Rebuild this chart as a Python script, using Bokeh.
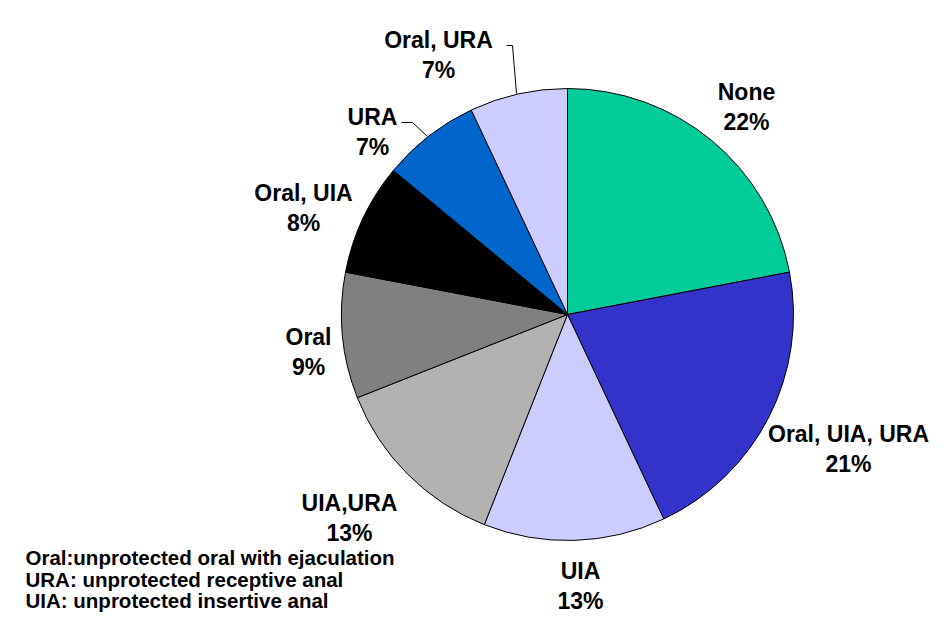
import math
from bokeh.plotting import figure
from bokeh.models import Range1d, ColumnDataSource
from bokeh.core.properties import value
from bokeh.embed import file_html
from bokeh.resources import INLINE

# ---- data ----
categories = ["None", "Oral, UIA, URA", "UIA", "UIA,URA", "Oral", "Oral, UIA", "URA", "Oral, URA"]
percents = [22, 21, 13, 13, 9, 8, 7, 7]
colors = ["#00CC99", "#3333CC", "#CCCCFF", "#B2B2B2", "#808080", "#000000", "#0066CC", "#CCCCFF"]
notes = [
    "Oral:unprotected oral with ejaculation",
    "URA: unprotected receptive anal",
    "UIA: unprotected insertive anal",
]

# ---- layout (pixel coordinates from the plot's top-left) ----
W, H = 932, 615
CX, CY, R = 567, 314, 226
# label centre (x, cap-centre y of first line) per slice
label_pos = [(746, 83), (848, 425), (580, 562), (349, 494), (308, 328), (303, 184), (372, 108), (438, 31)]
line_gap = 30.5
cap_half = 8.3
FS = "23px"
NOTE_FS = "20.5px"
note_x, note_base0, note_gap = 25, 557, 21.5
leaders = [
    [(506, 45), (512, 45), (516, 93)],
    [(401, 122), (412, 122), (427, 136)],
]

def Y(s):
    return H - s

p = figure(width=W, height=H, output_backend="svg", toolbar_location=None,
           x_range=Range1d(0, W), y_range=Range1d(0, H),
           min_border=0, min_border_left=0, min_border_right=0,
           min_border_top=0, min_border_bottom=0)
p.axis.visible = False
p.grid.visible = False
p.outline_line_color = None
p.background_fill_color = "white"
p.border_fill_color = "white"

total = float(sum(percents))
starts, ends = [], []
cum = 0.0
for v in percents:
    starts.append(math.pi / 2 - 2 * math.pi * cum / total)
    cum += v
    ends.append(math.pi / 2 - 2 * math.pi * cum / total)

src = ColumnDataSource(dict(start=starts, end=ends, color=colors, cat=categories))
p.wedge(x=CX, y=Y(CY), radius=R, start_angle="start", end_angle="end",
        direction="clock", fill_color="color", line_color="black", line_width=1, source=src)

for pts in leaders:
    p.line([q[0] for q in pts], [Y(q[1]) for q in pts], line_color="black", line_width=1)

lx = [q[0] for q in label_pos]
ly1 = [Y(q[1] + cap_half) for q in label_pos]
ly2 = [Y(q[1] + cap_half + line_gap) for q in label_pos]
pct_txt = [f"{v}%" for v in percents]

common = dict(text_font=value("Liberation Sans"), text_font_style="bold",
              text_font_size=FS, text_align="center", text_baseline="alphabetic",
              text_color="black")
p.text(x=lx, y=ly1, text=categories, **common)
p.text(x=lx, y=ly2, text=pct_txt, **common)

p.text(x=[note_x] * len(notes),
       y=[Y(note_base0 + i * note_gap) for i in range(len(notes))],
       text=notes, text_font=value("Liberation Sans"), text_font_style="bold",
       text_font_size=NOTE_FS, text_align="left", text_baseline="alphabetic",
       text_color="black")

open("out.html", "w").write(file_html(p, INLINE))
